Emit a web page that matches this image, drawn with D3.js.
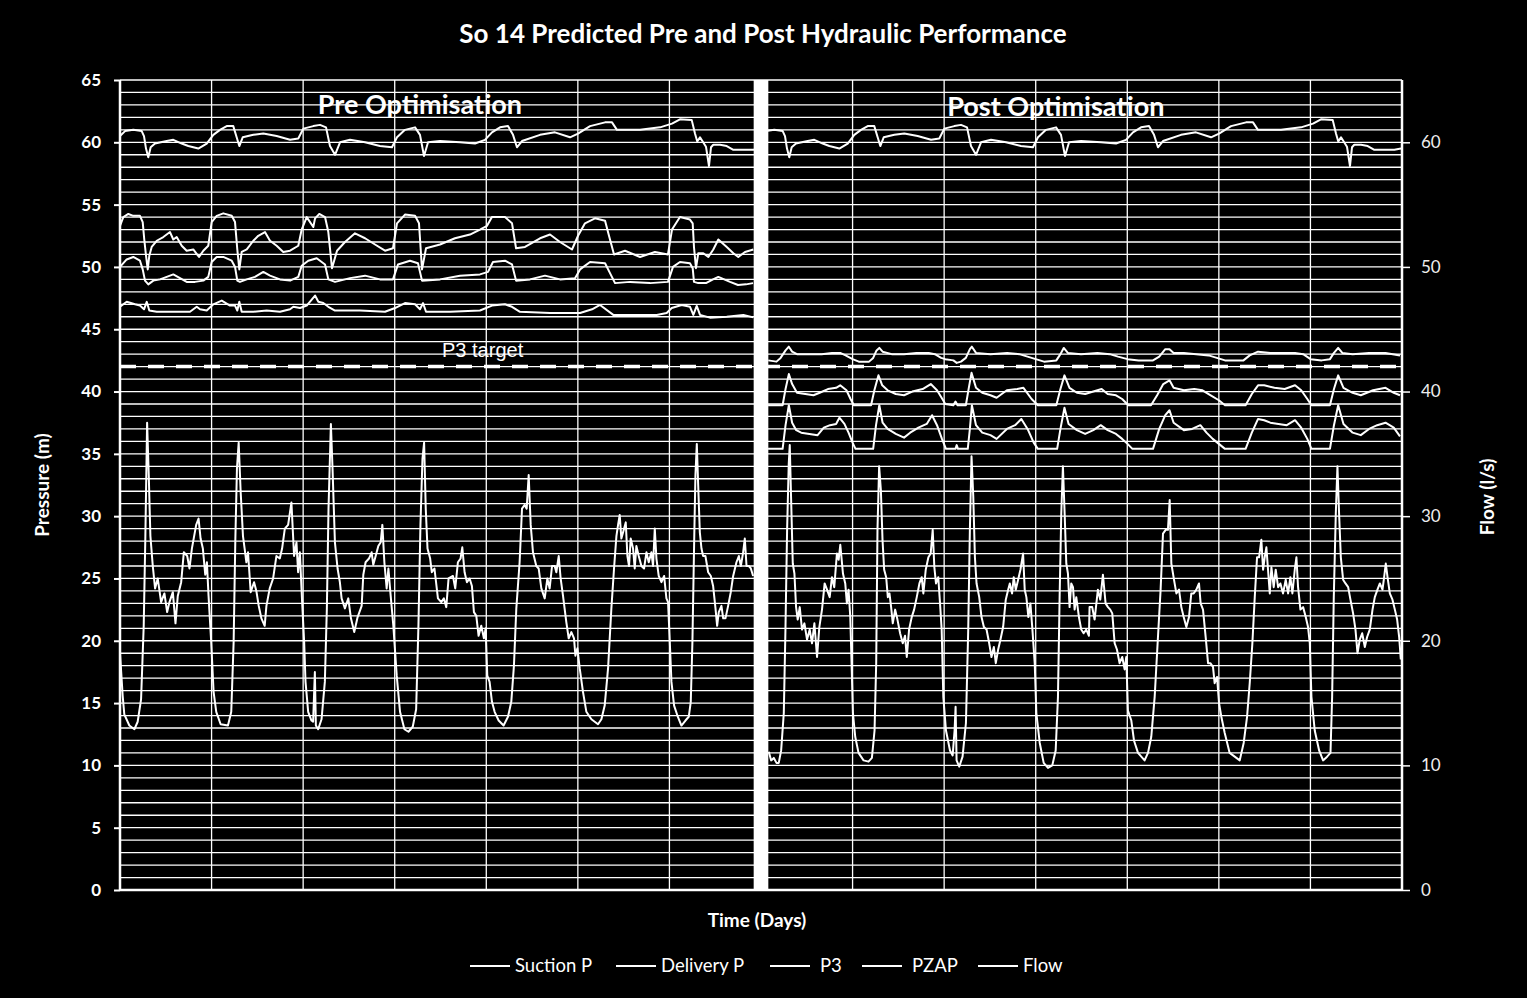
<!DOCTYPE html>
<html><head><meta charset="utf-8">
<script src="https://cdn.jsdelivr.net/npm/d3@7"></script>
<style>body{margin:0;background:#000;} svg{display:block;font-family:Lato,"Open Sans",sans-serif;}</style>
</head><body><svg id="c" width="1527" height="998"></svg>
<script>
// ---------- DATA ----------
const chartTitle = "So 14 Predicted Pre and Post Hydraulic Performance";
const pressureTicks = [0,5,10,15,20,25,30,35,40,45,50,55,60,65];
const flowTicks = [0,10,20,30,40,50,60];
const gridValues = [0,1,2,3,4,5,6,7,8,9,10,11,12,13,14,15,16,17,18,19,20,21,22,23,24,25,26,27,28,29,30,31,32,33,34,35,36,37,38,39,40,41,42,43,44,45,46,47,48,49,50,51,52,53,54,55,56,57,58,59,60,61,62,63,64,65];
const dayGrid = [0,1,2,3,4,5,6,7,8,9,10,11,12,13,14];
const p3Target = 42;
const periodGap = [6.92, 7.08];
const periodLabels = [{name:"Pre Optimisation", day:3.276, value:62.3},{name:"Post Optimisation", day:10.22, value:62.1}];
const legendNames = ["Suction P","Delivery P","P3","PZAP","Flow"];

// Suction P: one weekly profile, identical in both periods (pre days 0-7, post days 7-14)
const suctionWeek = [[0,60.5],[0.055,60.9],[0.145,61],[0.237,60.9],[0.262,60.5],[0.284,59.5],[0.309,58.8],[0.335,59.6],[0.382,59.9],[0.51,60.1],[0.582,60.2],[0.674,59.9],[0.746,59.7],[0.855,59.5],[0.947,59.9],[1.019,60.6],[1.092,61],[1.165,61.3],[1.237,61.3],[1.274,60.4],[1.303,59.7],[1.34,60.4],[1.456,60.6],[1.565,60.7],[1.711,60.5],[1.857,60.2],[1.947,60.3],[2.002,61.1],[2.111,61.3],[2.184,61.4],[2.25,61.2],[2.293,59.7],[2.348,59.0],[2.403,60.0],[2.512,60.2],[2.676,60.0],[2.839,59.7],[2.97,59.6],[3.025,60.4],[3.112,61.0],[3.222,61.2],[3.276,60.6],[3.32,58.9],[3.364,60.0],[3.495,60.1],[3.713,60.0],[3.877,59.9],[3.986,60.2],[4.062,60.8],[4.15,61.2],[4.237,61.3],[4.292,60.6],[4.335,59.6],[4.39,60.1],[4.587,60.6],[4.75,60.8],[4.914,60.4],[5.002,60.7],[5.133,61.3],[5.297,61.6],[5.373,61.6],[5.427,61.0],[5.679,61.0],[5.897,61.2],[6.028,61.5],[6.115,61.85],[6.243,61.8],[6.279,60.7],[6.304,60.06],[6.334,60.4],[6.399,59.65],[6.432,58.1],[6.454,59.6],[6.479,59.8],[6.553,59.8],[6.626,59.7],[6.698,59.4],[6.804,59.4],[6.916,59.4],[6.989,59.5]];

const deliveryPre = [[0,53.3],[0.036,54],[0.091,54.25],[0.145,54.1],[0.218,54.1],[0.248,53.6],[0.265,52.2],[0.284,50.9],[0.303,49.8],[0.32,50.9],[0.346,51.6],[0.401,52.1],[0.473,52.4],[0.546,52.8],[0.582,52.2],[0.619,52.4],[0.674,51.7],[0.728,51.3],[0.8,51.4],[0.863,50.8],[0.91,51.3],[0.964,51.7],[1.001,53.6],[1.056,54.1],[1.128,54.3],[1.22,54.1],[1.256,53.6],[1.281,51.4],[1.303,49.8],[1.329,51.2],[1.384,51.4],[1.456,52.1],[1.51,52.5],[1.583,52.8],[1.638,52.1],[1.711,51.7],[1.783,51.2],[1.857,51.3],[1.947,51.7],[1.984,53],[2.039,54],[2.111,53.2],[2.13,53.9],[2.176,54.25],[2.239,54],[2.275,52.8],[2.315,49.9],[2.37,51.3],[2.457,52.0],[2.566,52.7],[2.676,52.3],[2.785,51.8],[2.894,51.3],[2.981,51.5],[3.025,53.5],[3.112,54.2],[3.222,54.1],[3.265,53.5],[3.298,49.8],[3.342,51.5],[3.495,51.8],[3.658,52.3],[3.822,52.6],[3.931,53.0],[4.008,53.3],[4.062,54],[4.204,54.0],[4.281,53.5],[4.325,51.5],[4.423,51.6],[4.587,52.3],[4.696,52.6],[4.805,52.0],[4.936,51.4],[5.002,52.5],[5.078,53.5],[5.187,53.9],[5.297,53.7],[5.34,52.5],[5.395,51.0],[5.515,51.3],[5.679,50.8],[5.842,51.2],[5.984,51.0],[6.028,53.0],[6.115,54.0],[6.224,53.8],[6.254,53.5],[6.268,51.6],[6.29,49.9],[6.315,51.1],[6.37,51.1],[6.425,50.8],[6.479,51.4],[6.534,52.2],[6.626,51.6],[6.698,51.1],[6.752,50.8],[6.825,51.2],[6.916,51.4]];

const pzapPre = [[0,50],[0.073,50.6],[0.145,50.8],[0.218,50.5],[0.248,49.8],[0.273,48.9],[0.309,48.6],[0.364,48.9],[0.437,49],[0.51,49.2],[0.582,49.4],[0.655,49.1],[0.728,48.8],[0.819,48.8],[0.91,48.9],[0.964,49.2],[1.001,50.4],[1.056,50.8],[1.128,50.8],[1.22,50.5],[1.256,50],[1.281,48.9],[1.31,48.8],[1.384,49],[1.474,49.2],[1.565,49.6],[1.638,49.3],[1.747,49],[1.857,48.9],[1.947,49.2],[1.984,50.1],[2.056,50.5],[2.148,50.7],[2.239,50.2],[2.275,49],[2.348,48.8],[2.512,49.1],[2.676,49.3],[2.839,49.0],[2.981,49.0],[3.036,50.2],[3.167,50.5],[3.254,50.3],[3.298,48.9],[3.495,49.0],[3.713,49.3],[3.931,49.4],[4.019,49.6],[4.073,50.4],[4.204,50.5],[4.281,50.2],[4.325,48.9],[4.477,49.0],[4.641,49.3],[4.805,49.0],[4.969,49.1],[5.024,49.8],[5.133,50.4],[5.297,50.3],[5.351,49.5],[5.406,48.7],[5.57,48.8],[5.788,48.7],[5.984,48.8],[6.039,50.0],[6.115,50.4],[6.224,50.3],[6.254,49.9],[6.268,48.8],[6.315,48.7],[6.399,48.7],[6.476,49.0],[6.534,49.2],[6.662,48.8],[6.749,48.55],[6.836,48.6],[6.913,48.7]];

const p3Pre = [[0,46.8],[0.073,47.2],[0.164,47],[0.218,46.9],[0.262,46.6],[0.292,47.2],[0.32,46.5],[0.401,46.4],[0.51,46.4],[0.619,46.4],[0.764,46.4],[0.838,46.8],[0.874,46.6],[0.947,46.5],[1.019,47],[1.111,47.3],[1.201,46.9],[1.256,46.9],[1.281,46.5],[1.303,47.2],[1.329,46.4],[1.456,46.4],[1.602,46.5],[1.747,46.4],[1.857,46.6],[1.893,46.8],[1.966,46.7],[2.039,46.9],[2.13,47.7],[2.166,47.2],[2.22,47.1],[2.275,46.8],[2.348,46.5],[2.621,46.5],[2.894,46.4],[3.003,46.7],[3.112,47.1],[3.222,47.0],[3.276,46.6],[3.309,47.1],[3.342,46.4],[3.604,46.4],[3.931,46.5],[4.062,46.9],[4.204,47.0],[4.281,46.8],[4.368,46.4],[4.696,46.3],[5.024,46.3],[5.155,46.6],[5.242,46.95],[5.387,46.15],[5.606,46.15],[5.861,46.15],[5.97,46.3],[6.025,46.7],[6.134,46.95],[6.225,46.8],[6.261,46.15],[6.298,46.87],[6.334,46.15],[6.443,45.93],[6.626,46.0],[6.807,46.15],[6.916,45.95]];

const p3Post = [[7.079,42.5],[7.169,42.4],[7.214,42.7],[7.268,43.3],[7.304,43.6],[7.34,43.2],[7.393,43],[7.529,43],[7.663,43],[7.775,43.1],[7.865,43.1],[7.924,42.9],[8.0,42.6],[8.068,42.4],[8.18,42.4],[8.225,42.7],[8.262,43.3],[8.292,43.5],[8.328,43.2],[8.427,43],[8.562,43],[8.697,43.1],[8.831,43.1],[8.899,43],[8.967,42.7],[9.012,42.6],[9.101,42.5],[9.137,42.3],[9.184,42.4],[9.237,42.7],[9.281,43.4],[9.303,43.6],[9.348,43.1],[9.506,43],[9.687,43.1],[9.821,43],[9.911,42.8],[10.0,42.6],[10.091,42.4],[10.225,42.5],[10.27,43],[10.306,43.5],[10.351,43.1],[10.495,43],[10.674,43.1],[10.809,43],[10.899,42.8],[11.003,42.6],[11.124,42.5],[11.281,42.5],[11.349,42.8],[11.415,43.4],[11.461,43.4],[11.506,43.1],[11.618,43.1],[11.753,43],[11.888,42.9],[11.978,42.7],[12.067,42.5],[12.269,42.5],[12.337,42.9],[12.428,43.2],[12.562,43.1],[12.696,43.1],[12.832,43.1],[12.921,43],[13.002,42.6],[13.123,42.5],[13.213,42.6],[13.257,43.1],[13.303,43.5],[13.348,43.1],[13.461,43],[13.64,43.1],[13.82,43.1],[13.978,42.9]];

const deliveryPost = [[7.077,38.9],[7.236,38.9],[7.268,40.2],[7.304,41.4],[7.34,40.6],[7.393,39.9],[7.484,39.8],[7.573,39.7],[7.641,39.9],[7.731,40.2],[7.82,40.3],[7.865,40.5],[7.933,40.1],[7.978,39.4],[8.014,38.9],[8.202,38.9],[8.238,40.1],[8.283,41.3],[8.324,40.5],[8.383,40.1],[8.472,39.8],[8.562,39.7],[8.652,40],[8.765,40.2],[8.854,40.6],[8.922,40.1],[8.989,39.3],[9.012,39],[9.101,38.9],[9.124,39.2],[9.146,38.9],[9.237,38.9],[9.267,40.2],[9.299,41.5],[9.348,40.3],[9.416,39.9],[9.506,39.7],[9.573,39.5],[9.685,40.1],[9.798,40.2],[9.866,40.3],[9.955,39.4],[10.023,38.9],[10.225,38.9],[10.27,40.2],[10.314,41.3],[10.369,40.3],[10.45,39.9],[10.54,39.8],[10.629,40],[10.72,40.2],[10.786,39.8],[10.877,39.7],[10.944,39.4],[11.011,38.9],[11.259,38.9],[11.326,39.7],[11.393,40.6],[11.461,40.9],[11.506,40.3],[11.618,40.1],[11.731,40.2],[11.821,40.1],[11.911,39.7],[12.0,39.3],[12.067,38.9],[12.292,38.9],[12.36,39.8],[12.428,40.5],[12.495,40.5],[12.607,40.3],[12.719,40.2],[12.832,40.5],[12.899,40.1],[12.966,39.4],[13.011,38.9],[13.213,38.9],[13.257,40.2],[13.303,41.3],[13.361,40.3],[13.461,39.9],[13.55,39.7],[13.684,40.1],[13.82,40.3],[13.91,39.9],[13.978,39.7]];

const pzapPost = [[7.077,35.4],[7.236,35.4],[7.268,37.3],[7.304,38.9],[7.34,37.5],[7.385,36.9],[7.439,36.7],[7.529,36.6],[7.618,36.5],[7.686,37.1],[7.754,37.3],[7.82,37.4],[7.856,37.9],[7.911,37.4],[7.956,36.7],[8.0,35.9],[8.032,35.4],[8.225,35.4],[8.256,37.3],[8.292,38.9],[8.328,37.5],[8.383,37],[8.472,36.6],[8.562,36.3],[8.629,36.7],[8.719,37.1],[8.81,37.4],[8.868,38.1],[8.922,37.3],[8.976,36.2],[9.02,35.4],[9.124,35.4],[9.137,35.7],[9.151,35.4],[9.258,35.4],[9.281,37],[9.303,38.9],[9.348,37.3],[9.416,36.7],[9.506,36.5],[9.573,36.2],[9.685,37],[9.775,37.3],[9.843,37.8],[9.911,37],[9.978,35.9],[10.023,35.4],[10.234,35.4],[10.27,37],[10.314,38.7],[10.359,37.4],[10.45,36.9],[10.54,36.6],[10.629,36.9],[10.71,37.3],[10.786,36.9],[10.877,36.6],[10.944,36.2],[11.003,35.8],[11.056,35.4],[11.281,35.4],[11.349,37],[11.415,38.1],[11.461,38.5],[11.506,37.5],[11.618,36.9],[11.708,37],[11.798,37.3],[11.865,36.7],[11.933,36.2],[12.0,35.8],[12.067,35.4],[12.292,35.4],[12.36,36.7],[12.428,37.8],[12.495,37.7],[12.562,37.5],[12.651,37.4],[12.742,37.3],[12.832,37.7],[12.899,37.1],[12.966,36.2],[13.011,35.4],[13.213,35.4],[13.257,37.3],[13.303,38.9],[13.361,37.4],[13.461,36.7],[13.55,36.5],[13.64,37],[13.729,37.3],[13.82,37.5],[13.91,37.1],[13.978,36.4]];

const flowPre = [[0,19],[0.029,15.6],[0.047,14.1],[0.102,13.2],[0.157,12.9],[0.193,13.5],[0.23,15.3],[0.259,21.2],[0.277,28.4],[0.296,37.5],[0.314,33.3],[0.332,28.4],[0.358,26],[0.383,24.2],[0.412,25],[0.449,23.1],[0.485,23.8],[0.515,22.3],[0.54,23.1],[0.577,23.9],[0.606,21.4],[0.631,23.6],[0.668,24.7],[0.697,27.1],[0.734,26.8],[0.759,25.8],[0.785,27.4],[0.832,29.3],[0.858,29.8],[0.88,28.2],[0.905,27.4],[0.931,25.3],[0.949,26.3],[0.967,23.6],[0.996,19.9],[1.022,15.9],[1.051,14.3],[1.099,13.3],[1.179,13.2],[1.215,14.3],[1.241,19.9],[1.259,27.9],[1.277,33.8],[1.296,35.9],[1.318,31.9],[1.343,28.4],[1.361,27.4],[1.38,26.3],[1.398,27.1],[1.427,23.9],[1.464,24.7],[1.489,24],[1.515,22.8],[1.544,21.8],[1.58,21.2],[1.599,22.8],[1.635,24.2],[1.672,25],[1.708,26.8],[1.745,26.6],[1.77,27.4],[1.8,29],[1.836,29.3],[1.872,31.1],[1.901,26.8],[1.927,27.9],[1.945,25.5],[1.964,27.1],[1.989,23.1],[2.011,19.9],[2.026,16.7],[2.055,14.3],[2.091,13.6],[2.109,13.5],[2.128,17.5],[2.139,13.2],[2.164,12.9],[2.201,13.7],[2.237,16.7],[2.259,22.6],[2.277,30.6],[2.303,37.4],[2.321,33.8],[2.347,27.9],[2.376,25.8],[2.401,24.7],[2.42,23.4],[2.456,22.6],[2.493,23.4],[2.522,21.8],[2.558,20.7],[2.595,21.9],[2.639,22.8],[2.657,25.3],[2.682,26.3],[2.719,26.6],[2.748,27.1],[2.766,26.1],[2.792,26.8],[2.821,27.6],[2.847,27.9],[2.865,29.3],[2.887,26.3],[2.912,24.2],[2.931,25.8],[2.956,23.6],[2.985,21.2],[3.022,17.2],[3.058,14.3],[3.106,12.9],[3.15,12.7],[3.197,13.1],[3.234,14.5],[3.259,21.2],[3.281,29.3],[3.303,34.6],[3.321,35.9],[3.339,30.6],[3.358,27.4],[3.387,26.6],[3.405,25.5],[3.434,25.8],[3.472,23.4],[3.508,23.1],[3.537,23.4],[3.563,22.7],[3.588,25],[3.636,25.2],[3.661,24.2],[3.69,26.3],[3.719,26.6],[3.738,27.5],[3.763,25.5],[3.789,24.7],[3.818,25],[3.843,24.4],[3.865,22.3],[3.891,22],[3.916,20.4],[3.945,21.2],[3.974,20.2],[3.993,21],[4.011,17.2],[4.036,16.7],[4.062,15.1],[4.091,14.3],[4.135,13.6],[4.189,13.2],[4.237,13.9],[4.273,15.1],[4.302,18],[4.328,22.6],[4.364,26.3],[4.39,30.6],[4.419,30.9],[4.441,30.6],[4.463,33.3],[4.485,29.3],[4.51,27.1],[4.546,26],[4.572,25.8],[4.601,24.2],[4.638,23.4],[4.667,25],[4.692,24.2],[4.718,26],[4.747,26],[4.765,25.5],[4.791,26.8],[4.812,25],[4.838,23.6],[4.874,21.5],[4.9,20.2],[4.929,20.7],[4.958,20.2],[4.973,18.8],[4.995,19.4],[5.02,17.8],[5.056,15.9],[5.093,14.3],[5.148,13.7],[5.22,13.3],[5.257,13.7],[5.293,14.8],[5.33,17.8],[5.366,22.6],[5.395,25.8],[5.421,28.4],[5.439,29.3],[5.457,30.1],[5.475,28.2],[5.505,29],[5.523,29.5],[5.541,26.8],[5.559,26],[5.577,28.2],[5.603,27.4],[5.621,25.8],[5.639,27.6],[5.665,26.8],[5.694,26],[5.723,25.8],[5.749,27.1],[5.774,26.3],[5.803,27.1],[5.821,26],[5.84,29],[5.858,26.6],[5.883,25.2],[5.913,24.7],[5.942,25.2],[5.967,23.4],[5.985,23.1],[6.004,19.9],[6.022,16.7],[6.051,14.8],[6.087,14],[6.131,13.2],[6.175,13.6],[6.211,13.9],[6.233,15.1],[6.251,19.9],[6.27,27.9],[6.284,33.3],[6.299,35.8],[6.313,32.7],[6.332,28.7],[6.35,27.4],[6.368,26.8],[6.393,26.8],[6.423,25.5],[6.452,25.2],[6.477,24.4],[6.503,22.6],[6.521,21.2],[6.539,22.3],[6.568,22.8],[6.587,21.8],[6.612,21.8],[6.641,22.8],[6.67,23.9],[6.696,25.2],[6.732,26.3],[6.758,26.8],[6.78,26],[6.805,27.1],[6.823,28.2],[6.842,26],[6.867,26],[6.889,25.8],[6.914,25.2]];

const flowPost = [[7.085,11.1],[7.111,10.4],[7.14,10.6],[7.169,10.2],[7.194,10.2],[7.22,11.2],[7.249,14.2],[7.267,20.9],[7.285,28.9],[7.303,34.2],[7.314,35.7],[7.328,31.6],[7.347,26.2],[7.365,25.4],[7.383,22.7],[7.401,21.7],[7.423,22.7],[7.448,20.9],[7.474,21.4],[7.503,20.1],[7.532,20.9],[7.557,19.8],[7.583,21.4],[7.612,18.7],[7.637,21.1],[7.666,22.5],[7.695,24.6],[7.721,24.1],[7.75,23.5],[7.775,25.1],[7.8,24.3],[7.829,27],[7.848,26.5],[7.866,27.7],[7.895,25.4],[7.92,24.6],[7.938,23],[7.956,24.1],[7.975,21.9],[8.004,14.2],[8.029,12.3],[8.065,11],[8.12,10.4],[8.174,10.3],[8.211,10.6],[8.24,12.8],[8.258,18.2],[8.272,28.9],[8.29,34],[8.309,32.1],[8.327,28.1],[8.345,25.7],[8.367,25.1],[8.385,23.5],[8.403,23.8],[8.421,22.7],[8.439,21.4],[8.465,22.5],[8.49,21.7],[8.519,20.6],[8.548,19.8],[8.573,20.4],[8.592,18.7],[8.617,20.9],[8.646,21.9],[8.672,22.5],[8.701,23.5],[8.73,24.6],[8.755,25.1],[8.773,23.8],[8.799,25.7],[8.828,26.7],[8.853,27],[8.875,28.9],[8.893,25.9],[8.911,24.6],[8.936,25.1],[8.955,23],[8.973,20.9],[8.991,15.5],[9.02,12.8],[9.064,11.2],[9.093,10.8],[9.114,12.8],[9.125,14.7],[9.136,10.4],[9.165,9.9],[9.201,10.7],[9.238,13.4],[9.263,20.9],[9.281,28.9],[9.299,34.8],[9.318,31.6],[9.336,26.7],[9.354,24.6],[9.383,23.5],[9.408,21.9],[9.434,21.1],[9.463,20.9],[9.492,19.8],[9.517,18.7],[9.543,19.5],[9.564,18.2],[9.59,19.3],[9.615,20.1],[9.644,21.1],[9.673,23.3],[9.699,24.1],[9.717,24.6],[9.742,23.8],[9.76,25.1],[9.782,24.1],[9.808,24.9],[9.833,25.7],[9.862,27],[9.88,24.1],[9.898,23.5],[9.92,21.9],[9.942,23],[9.964,20.9],[9.989,18.2],[10.007,14.2],[10.044,11.8],[10.087,10.2],[10.134,9.8],[10.181,10],[10.218,11.2],[10.243,15.5],[10.261,23.5],[10.279,30.2],[10.297,34],[10.316,30.2],[10.334,26.2],[10.352,25.4],[10.37,22.7],[10.388,24.6],[10.407,24.3],[10.425,22.5],[10.443,23.5],[10.472,21.9],[10.497,20.9],[10.523,20.6],[10.552,20.9],[10.581,20.4],[10.588,22.7],[10.617,22.7],[10.643,21.7],[10.679,24.1],[10.705,23.3],[10.734,25.3],[10.763,23],[10.789,22.7],[10.814,22.5],[10.836,22.2],[10.862,19.8],[10.887,19.3],[10.916,18.2],[10.945,18.7],[10.971,17.7],[10.989,18.7],[11.007,14.4],[11.044,13.6],[11.073,12],[11.117,11],[11.153,10.7],[11.189,10.4],[11.226,11],[11.262,12.3],[11.299,15.5],[11.335,20.3],[11.364,24.1],[11.39,28.6],[11.419,28.9],[11.444,28.9],[11.463,31.3],[11.481,26.2],[11.51,24.9],[11.536,23.8],[11.565,24.1],[11.59,22.7],[11.616,21.9],[11.645,21.1],[11.674,21.9],[11.699,23.8],[11.725,23.8],[11.754,24.1],[11.783,24.6],[11.801,23],[11.827,22.5],[11.856,20.3],[11.882,18.2],[11.907,18.2],[11.936,17.9],[11.954,16.6],[11.98,17.1],[12.002,15],[12.027,13.9],[12.064,12.6],[12.118,11],[12.173,10.7],[12.228,10.4],[12.271,11.8],[12.308,13.9],[12.337,16.6],[12.366,19.8],[12.392,23.5],[12.417,26.7],[12.439,26.7],[12.464,28.1],[12.483,25.7],[12.501,26.7],[12.519,27.5],[12.537,25.7],[12.556,23.8],[12.574,25.9],[12.599,24.3],[12.621,25.7],[12.647,24.3],[12.672,24.6],[12.701,23.8],[12.73,24.9],[12.756,23.8],[12.781,25.1],[12.803,23.8],[12.829,25.7],[12.847,26.7],[12.865,24.3],[12.891,22.5],[12.92,22.7],[12.949,21.9],[12.974,21.1],[12.993,19.8],[13.011,15.5],[13.047,12.8],[13.095,11.2],[13.138,10.4],[13.182,10.7],[13.219,11],[13.237,15.5],[13.255,23.5],[13.277,30.2],[13.295,34],[13.313,30.2],[13.332,26.7],[13.357,24.9],[13.383,24.6],[13.412,24.3],[13.437,23.3],[13.466,22.2],[13.492,20.9],[13.514,19],[13.539,20.1],[13.565,20.6],[13.594,19.5],[13.619,20.3],[13.648,20.9],[13.678,22.5],[13.703,23.5],[13.732,24.1],[13.758,24.6],[13.787,24.1],[13.805,25.1],[13.823,26.2],[13.842,25.1],[13.867,23.8],[13.896,23.3],[13.922,22.5],[13.947,21.7],[13.969,20.3],[13.987,18.5]];

// ---------- CHART ----------
const svg = d3.select("#c");
const W = 1527, H = 998;
const m = {left:120, right:125, top:80, bottom:108};
const x = d3.scaleLinear().domain([0,14]).range([m.left, W - m.right]);
const yL = d3.scaleLinear().domain([0,65]).range([H - m.bottom, m.top]);
const yR = d3.scaleLinear().domain([0,65]).range([H - m.bottom, m.top]);

svg.append("rect").attr("width",W).attr("height",H).attr("fill","#000");

// gridlines
svg.append("g").selectAll("line").data(gridValues).join("line")
  .attr("x1",x(0)).attr("x2",x(14)).attr("y1",d=>yL(d)).attr("y2",d=>yL(d))
  .attr("stroke","#fff").attr("stroke-width",1.3);
svg.append("g").selectAll("line").data(dayGrid).join("line")
  .attr("x1",d=>x(d)).attr("x2",d=>x(d)).attr("y1",yL(0)).attr("y2",yL(65))
  .attr("stroke","#fff").attr("stroke-width",1.3);

const line = d3.line().x(d=>x(d[0])).y(d=>yL(d[1]));
const lineR = d3.line().x(d=>x(d[0])).y(d=>yR(d[1]));
const suctionPre = suctionWeek;
const suctionPost = suctionWeek.map(d=>[d[0]+7, d[1]]);
const pressureSeries = [suctionPre, suctionPost, deliveryPre, deliveryPost, p3Pre, p3Post, pzapPre, pzapPost];
svg.append("g").selectAll("path").data(pressureSeries).join("path")
  .attr("d", line).attr("fill","none").attr("stroke","#fff").attr("stroke-width",2).attr("stroke-linejoin","round");
svg.append("g").selectAll("path").data([flowPre, flowPost]).join("path")
  .attr("d", lineR).attr("fill","none").attr("stroke","#fff").attr("stroke-width",2).attr("stroke-linejoin","round");

// P3 target
svg.append("line").attr("x1",x(0)).attr("x2",x(14)).attr("y1",yL(p3Target)).attr("y2",yL(p3Target))
  .attr("stroke","#fff").attr("stroke-width",3.5).attr("stroke-dasharray","16 12");
svg.append("text").attr("x",x(3.96)).attr("y",yL(p3Target)-9.5).attr("text-anchor","middle")
  .attr("fill","#fff").attr("font-family","'Liberation Sans',Arial,sans-serif").attr("font-size",20).text("P3 target");

// period divider
svg.append("rect").attr("x",x(periodGap[0])).attr("width",x(periodGap[1])-x(periodGap[0]))
  .attr("y",yL(65)).attr("height",yL(0)-yL(65)).attr("fill","#fff");

// axes frame
svg.append("line").attr("x1",x(0)).attr("x2",x(14)).attr("y1",yL(0)).attr("y2",yL(0)).attr("stroke","#fff").attr("stroke-width",2.5);
svg.append("line").attr("x1",x(0)).attr("x2",x(0)).attr("y1",yL(0)).attr("y2",yL(65)).attr("stroke","#fff").attr("stroke-width",2.5);
svg.append("line").attr("x1",x(14)).attr("x2",x(14)).attr("y1",yL(0)).attr("y2",yL(65)).attr("stroke","#fff").attr("stroke-width",2.5);

const axL = svg.append("g").attr("transform",`translate(${x(0)},0)`)
  .call(d3.axisLeft(yL).tickValues(pressureTicks).tickSize(6).tickPadding(13));
axL.select(".domain").remove();
axL.selectAll("line").attr("stroke","#fff").attr("stroke-width",2);
axL.selectAll("text").attr("fill","#fff").attr("font-size",17).attr("font-weight","bold").attr("font-family","Lato,sans-serif");

const axR = svg.append("g").attr("transform",`translate(${x(14)},0)`)
  .call(d3.axisRight(yR).tickValues(flowTicks).tickSize(8).tickPadding(11));
axR.select(".domain").remove();
axR.selectAll("line").attr("stroke","#fff").attr("stroke-width",1.5);
axR.selectAll("text").attr("fill","#eee").attr("font-size",17).attr("font-family","Lato,sans-serif");

// titles
svg.append("text").attr("x",763).attr("y",43).attr("text-anchor","middle").attr("fill","#fff")
  .attr("font-size",26).attr("font-weight","bold").text(chartTitle);
svg.selectAll(".plab").data(periodLabels).join("text").attr("class","plab")
  .attr("x",d=>x(d.day)).attr("y",d=>yL(d.value)).attr("text-anchor","middle").attr("fill","#fff")
  .attr("font-size",27).attr("font-weight","bold").text(d=>d.name);
svg.append("text").attr("transform",`translate(49,485) rotate(-90)`).attr("text-anchor","middle")
  .attr("fill","#fff").attr("font-size",19).attr("font-weight","bold").text("Pressure (m)");
svg.append("text").attr("transform",`translate(1494,497) rotate(-90)`).attr("text-anchor","middle")
  .attr("fill","#fff").attr("font-size",19).attr("font-weight","bold").text("Flow (l/s)");
svg.append("text").attr("x",757).attr("y",927).attr("text-anchor","middle").attr("fill","#fff")
  .attr("font-size",19).attr("font-weight","bold").text("Time (Days)");

// legend
const legendX = [470, 616, 770, 862, 978];
const lg = svg.append("g").selectAll("g").data(legendNames).join("g")
  .attr("transform",(d,i)=>`translate(${legendX[i]},966)`);
lg.append("line").attr("x1",0).attr("x2",40).attr("stroke","#fff").attr("stroke-width",2);
lg.append("text").attr("x",(d,i)=> i===2||i===3 ? 50 : 45).attr("y",6).attr("fill","#fff").attr("font-size",18.5).text(d=>d);
</script></body></html>
